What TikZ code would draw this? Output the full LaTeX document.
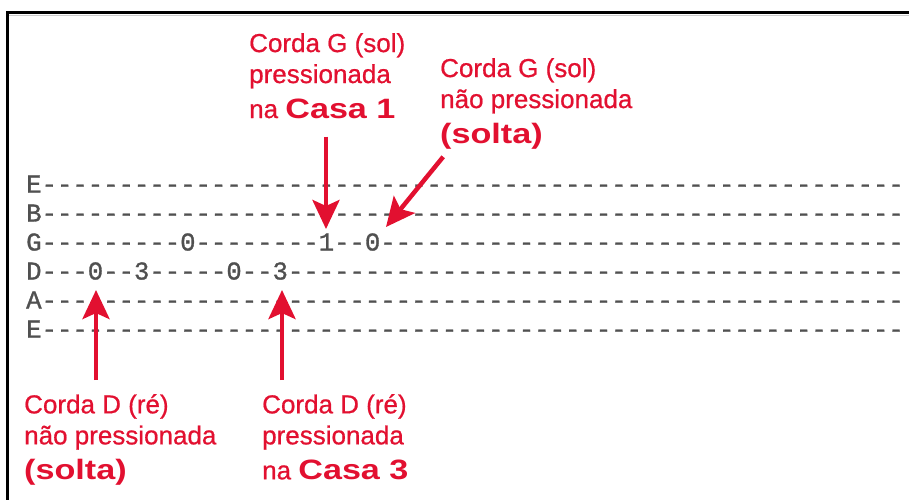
\documentclass[tikz,border=0pt]{standalone}
\usepackage{fontspec}
\setmonofont[FakeBold=1.2]{Liberation Mono}
\newfontfamily\notefont[FakeBold=0.7]{Liberation Sans}
\newfontfamily\heavyfont[FakeStretch=1.22]{Liberation Sans Bold}
\usepackage{xcolor}
\usetikzlibrary{arrows.meta}
\definecolor{notered}{RGB}{226,16,48}
\definecolor{tabgray}{HTML}{505050}
\newcommand{\tabdash}[1]{\foreach\n in {1,...,#1}{-}}
\newcommand{\casa}[1]{{\fontsize{28}{35}\heavyfont #1}}

\begin{document}
\begin{tikzpicture}[x=1pt, y=-1pt,
  tabrow/.style={anchor=base west, inner sep=0pt, text=tabgray, font=\ttfamily\fontsize{25.66}{29}\selectfont},
  note/.style={anchor=north west, inner sep=0pt, align=left, text=notered, font=\notefont\fontsize{26}{31}\selectfont},
  arr/.style={-{Stealth[length=29pt, width=27pt, inset=6pt]}, line width=4.5pt, notered}
]
\useasboundingbox (0,0) rectangle (909,499);
\draw[gray!40, line width=1pt] (9,15) -- (930,15);
\draw[line width=3pt] (7.5,520) |- (930,12.5);

\node[tabrow] at (26,192.5) (rowEhi) {E\tabdash{56}};
\node[tabrow] at (26,221.5) (rowB)   {B\tabdash{56}};
\node[tabrow] at (26,250.5) (rowG)   {G---------0--------1--0\tabdash{34}};
\node[tabrow] at (26,279.5) (rowD)   {D---0--3-----0--3\tabdash{40}};
\node[tabrow] at (26,308.5) (rowA)   {A\tabdash{56}};
\node[tabrow] at (26,337.5) (rowElo) {E\tabdash{56}};

\node[note] at (249,33)  (lblGpress) {Corda G (sol)\\pressionada\\[4pt]na \casa{Casa 1}};
\node[note] at (440,58)  (lblGopen)  {Corda G (sol)\\não pressionada\\[4pt]\casa{(solta)}};
\node[note] at (24,394)  (lblDopen)  {Corda D (ré)\\não pressionada\\[4pt]\casa{(solta)}};
\node[note] at (262,394) (lblDpress) {Corda D (ré)\\pressionada\\[4pt]na \casa{Casa 3}};

\coordinate (tipGone)   at (326,229);
\coordinate (tipGzero)  at (386,227);
\coordinate (tipDzero)  at (96,290);
\coordinate (tipDthree) at (282,290);

\draw[arr, shorten <=18pt] (lblGpress.south -| tipGone) -- (tipGone);
\draw[arr, shorten <=10pt] ([xshift=9.5pt]lblGopen.south west) -- (tipGzero);
\draw[arr, shorten <=14pt] (lblDopen.north -| tipDzero) -- (tipDzero);
\draw[arr, shorten <=14pt] (lblDpress.north -| tipDthree) -- (tipDthree);
\end{tikzpicture}
\end{document}
